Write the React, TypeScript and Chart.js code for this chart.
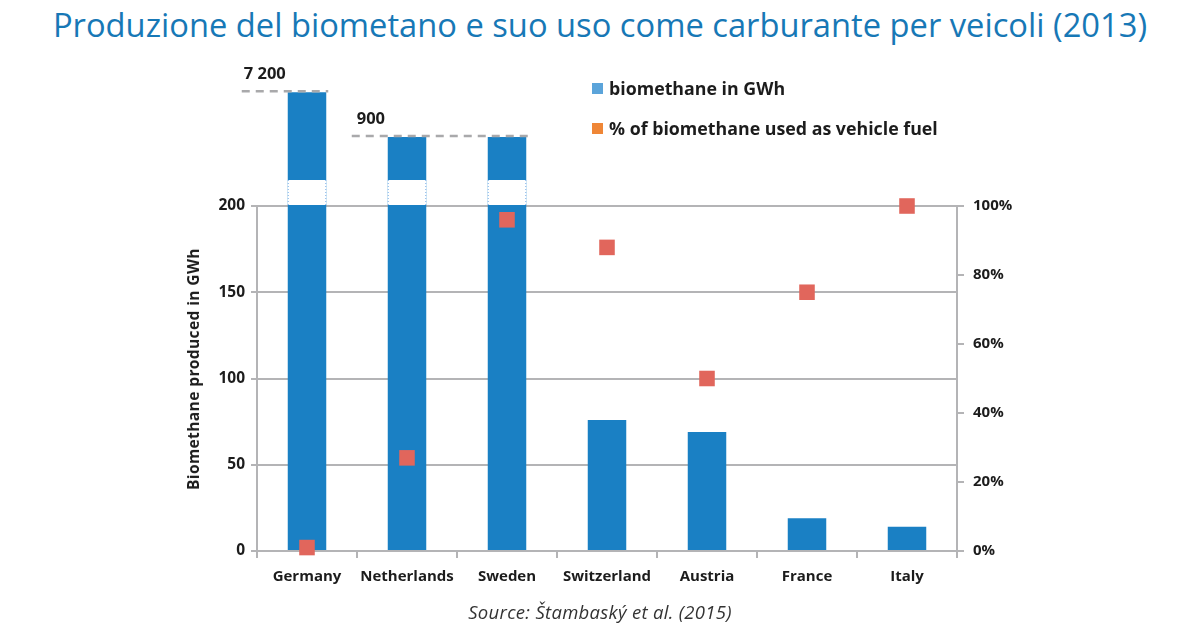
import React, { useEffect, useRef } from 'react';
import { Chart, registerables, LinearScale } from 'chart.js';

Chart.register(...registerables);

// ---------- data ----------
const categories = ['Germany', 'Netherlands', 'Sweden', 'Switzerland', 'Austria', 'France', 'Italy'];
const biomethaneGWh = [7200, 900, 900, 76, 69, 19, 14];
const vehicleFuelPct = [1, 27, 96, 88, 50, 75, 100];
const leftTickValues = [0, 50, 100, 150, 200];
const rightTickValues = [0, 20, 40, 60, 80, 100];
// broken axis: real values -> compressed scale positions (linear up to 200)
const breakValues = [0, 200, 900, 7200];
const breakPositions = [0, 200, 240, 266];
const annotationValues = [7200, 900];
const annotationLabels = ['7 200', '900'];
const annotationFirstBar = [0, 1];
const annotationLastBar = [0, 2];

// ---------- style ----------
const FONT = "'Open Sans', 'DejaVu Sans', sans-serif";
const GRAY = '#b4b4b6';
const BAR = '#1a80c4';
const POINT = '#e1665c';
const TEXT = '#1c1c1c';
const GAP_PX = 26;
const annotationExtend = [46, 36];
const annotationLabelDx = [2, 5];

function toScale(v: number): number {
  for (let i = 0; i < breakValues.length - 1; i++) {
    if (v <= breakValues[i + 1] || i === breakValues.length - 2) {
      const t = (v - breakValues[i]) / (breakValues[i + 1] - breakValues[i]);
      return breakPositions[i] + t * (breakPositions[i + 1] - breakPositions[i]);
    }
  }
  return v;
}
function fromScale(p: number): number {
  for (let i = 0; i < breakPositions.length - 1; i++) {
    if (p <= breakPositions[i + 1] || i === breakPositions.length - 2) {
      const t = (p - breakPositions[i]) / (breakPositions[i + 1] - breakPositions[i]);
      return breakValues[i] + t * (breakValues[i + 1] - breakValues[i]);
    }
  }
  return p;
}

class BrokenLinearScale extends (LinearScale as any) {
  static id = 'brokenLinear';
  static defaults = {};
  getPixelForValue(value: any) {
    if (value === null || value === undefined || isNaN(value)) return super.getPixelForValue(value);
    return super.getPixelForValue(toScale(value));
  }
  getValueForPixel(pixel: number) {
    return fromScale(super.getValueForPixel(pixel));
  }
}
Chart.register(BrokenLinearScale as any);

const breakPlugin = {
  id: 'axisBreak',
  afterDatasetsDraw(chart: any) {
    const ctx = chart.ctx;
    const y = chart.scales.y;
    const yTop = y.getPixelForValue(leftTickValues[leftTickValues.length - 1]);
    const meta = chart.getDatasetMeta(1);
    ctx.save();
    meta.data.forEach((bar: any, i: number) => {
      if (biomethaneGWh[i] <= leftTickValues[leftTickValues.length - 1]) return;
      const { x, width } = bar.getProps(['x', 'width'], true);
      const l = x - width / 2;
      const r = x + width / 2;
      ctx.fillStyle = '#ffffff';
      ctx.fillRect(l, yTop - GAP_PX, width, GAP_PX - 1);
      ctx.strokeStyle = '#7fb1ea';
      ctx.lineWidth = 1;
      ctx.setLineDash([1, 2]);
      ctx.beginPath();
      ctx.moveTo(l + 0.5, yTop - GAP_PX);
      ctx.lineTo(l + 0.5, yTop);
      ctx.moveTo(r - 0.5, yTop - GAP_PX);
      ctx.lineTo(r - 0.5, yTop);
      ctx.stroke();
    });
    ctx.setLineDash([]);
    annotationValues.forEach((val, k) => {
      const yy = y.getPixelForValue(val) - 1;
      const b1 = meta.data[annotationFirstBar[k]];
      const b2 = meta.data[annotationLastBar[k]];
      const x0 = b1.x - b1.width / 2 - annotationExtend[k];
      const x1 = b2.x + b2.width / 2 + 2;
      ctx.strokeStyle = '#a9a9ab';
      ctx.lineWidth = 2.5;
      ctx.setLineDash([8, 6]);
      ctx.beginPath();
      ctx.moveTo(x0, yy);
      ctx.lineTo(x1, yy);
      ctx.stroke();
      ctx.setLineDash([]);
      ctx.fillStyle = TEXT;
      ctx.font = `bold 16.5px ${FONT}`;
      ctx.textBaseline = 'middle';
      ctx.textAlign = 'left';
      ctx.fillText(annotationLabels[k], x0 + annotationLabelDx[k], yy - 17);
    });
    ctx.restore();
  },
};

export default function App() {
  const canvasRef = useRef<HTMLCanvasElement | null>(null);

  useEffect(() => {
    if (!canvasRef.current) return;
    const tickFont = { family: FONT, size: 15, weight: 'bold' as const };
    const chart = new Chart(canvasRef.current, {
      type: 'bar',
      data: {
        labels: categories,
        datasets: [
          {
            type: 'line' as const,
            label: '% of biomethane used as vehicle fuel',
            data: vehicleFuelPct,
            yAxisID: 'y1',
            showLine: false,
            pointStyle: 'rect',
            pointRadius: 11,
            pointHoverRadius: 11,
            pointBorderWidth: 0,
            pointBackgroundColor: POINT,
            backgroundColor: POINT,
            borderColor: POINT,
            clip: false,
            order: 0,
          } as any,
          {
            type: 'bar' as const,
            label: 'biomethane in GWh',
            data: biomethaneGWh,
            yAxisID: 'y',
            backgroundColor: BAR,
            borderWidth: 0,
            categoryPercentage: 1,
            barPercentage: 0.385,
            clip: false,
            order: 1,
          } as any,
        ],
      },
      options: {
        animation: false,
        responsive: false,
        devicePixelRatio: 1,
        layout: { padding: { left: 180, top: 206, right: 0, bottom: 0 } },
        plugins: { legend: { display: false }, tooltip: { enabled: false }, title: { display: false } },
        scales: {
          x: {
            type: 'category',
            offset: true,
            grid: { offset: true, drawOnChartArea: false, drawTicks: true, tickLength: 7, color: GRAY, lineWidth: 2 },
            border: { display: true, color: GRAY, width: 2 },
            ticks: { color: TEXT, font: tickFont, padding: 10, maxRotation: 0, autoSkip: false },
            afterFit: (s: any) => { s.height = 79; },
          },
          y: {
            type: 'brokenLinear' as any,
            position: 'left',
            min: 0,
            max: 200,
            afterBuildTicks: (s: any) => { s.ticks = leftTickValues.map((v) => ({ value: v })); },
            ticks: { color: TEXT, font: { ...tickFont, size: 15.5 }, padding: 6, callback: (v: any) => String(v) },
            grid: { color: GRAY, lineWidth: 2, tickLength: 6, drawTicks: true },
            border: { display: true, color: GRAY, width: 2 },
            afterFit: (s: any) => { s.width = 77; },
          } as any,
          y1: {
            type: 'linear',
            position: 'right',
            min: 0,
            max: 100,
            afterBuildTicks: (s: any) => { s.ticks = rightTickValues.map((v) => ({ value: v })); },
            ticks: { color: TEXT, font: tickFont, padding: 9, callback: (v: any) => v + '%' },
            grid: { drawOnChartArea: false, tickLength: 7, color: GRAY, lineWidth: 2 },
            border: { display: true, color: GRAY, width: 2 },
            afterFit: (s: any) => { s.width = 243; },
          } as any,
        },
      },
      plugins: [breakPlugin],
    });
    return () => chart.destroy();
  }, []);

  return (
    <div style={{ position: 'fixed', left: 0, top: 0, width: 1200, height: 630, background: '#fff', overflow: 'hidden' }}>
      <div
        style={{
          position: 'absolute', left: 0, top: 5, width: 1200, textAlign: 'center',
          fontFamily: FONT, fontSize: 32.7, color: '#1778b6', whiteSpace: 'nowrap', lineHeight: '40px',
        }}
      >
        Produzione del biometano e suo uso come carburante per veicoli (2013)
      </div>
      <canvas ref={canvasRef} width={1200} height={630} style={{ position: 'absolute', left: 0, top: 0 }} />
      <div
        style={{
          position: 'absolute', left: 193, top: 369, transform: 'translate(-50%, -50%) rotate(-90deg)',
          fontFamily: FONT, fontSize: 15.5, fontWeight: 'bold', color: TEXT, whiteSpace: 'nowrap', letterSpacing: 0.4,
        }}
      >
        Biomethane produced in GWh
      </div>
      <div style={{ position: 'absolute', left: 592, top: 77, fontFamily: FONT, fontSize: 17.8, fontWeight: 'bold', color: TEXT }}>
        <div style={{ display: 'flex', alignItems: 'center', height: 22 }}>
          <span style={{ width: 11, height: 11, background: '#5ba4da', display: 'inline-block', marginRight: 6 }} />
          biomethane in GWh
        </div>
        <div style={{ display: 'flex', alignItems: 'center', height: 22, marginTop: 18 }}>
          <span style={{ width: 11, height: 11, background: '#ef8636', display: 'inline-block', marginRight: 6 }} />
          % of biomethane used as vehicle fuel
        </div>
      </div>
      <div
        style={{
          position: 'absolute', left: 0, top: 599, width: 1200, textAlign: 'center',
          fontFamily: FONT, fontSize: 18.5, fontStyle: 'italic', color: '#333', whiteSpace: 'nowrap', letterSpacing: 0.3,
        }}
      >
        Source: Štambaský et al. (2015)
      </div>
    </div>
  );
}
